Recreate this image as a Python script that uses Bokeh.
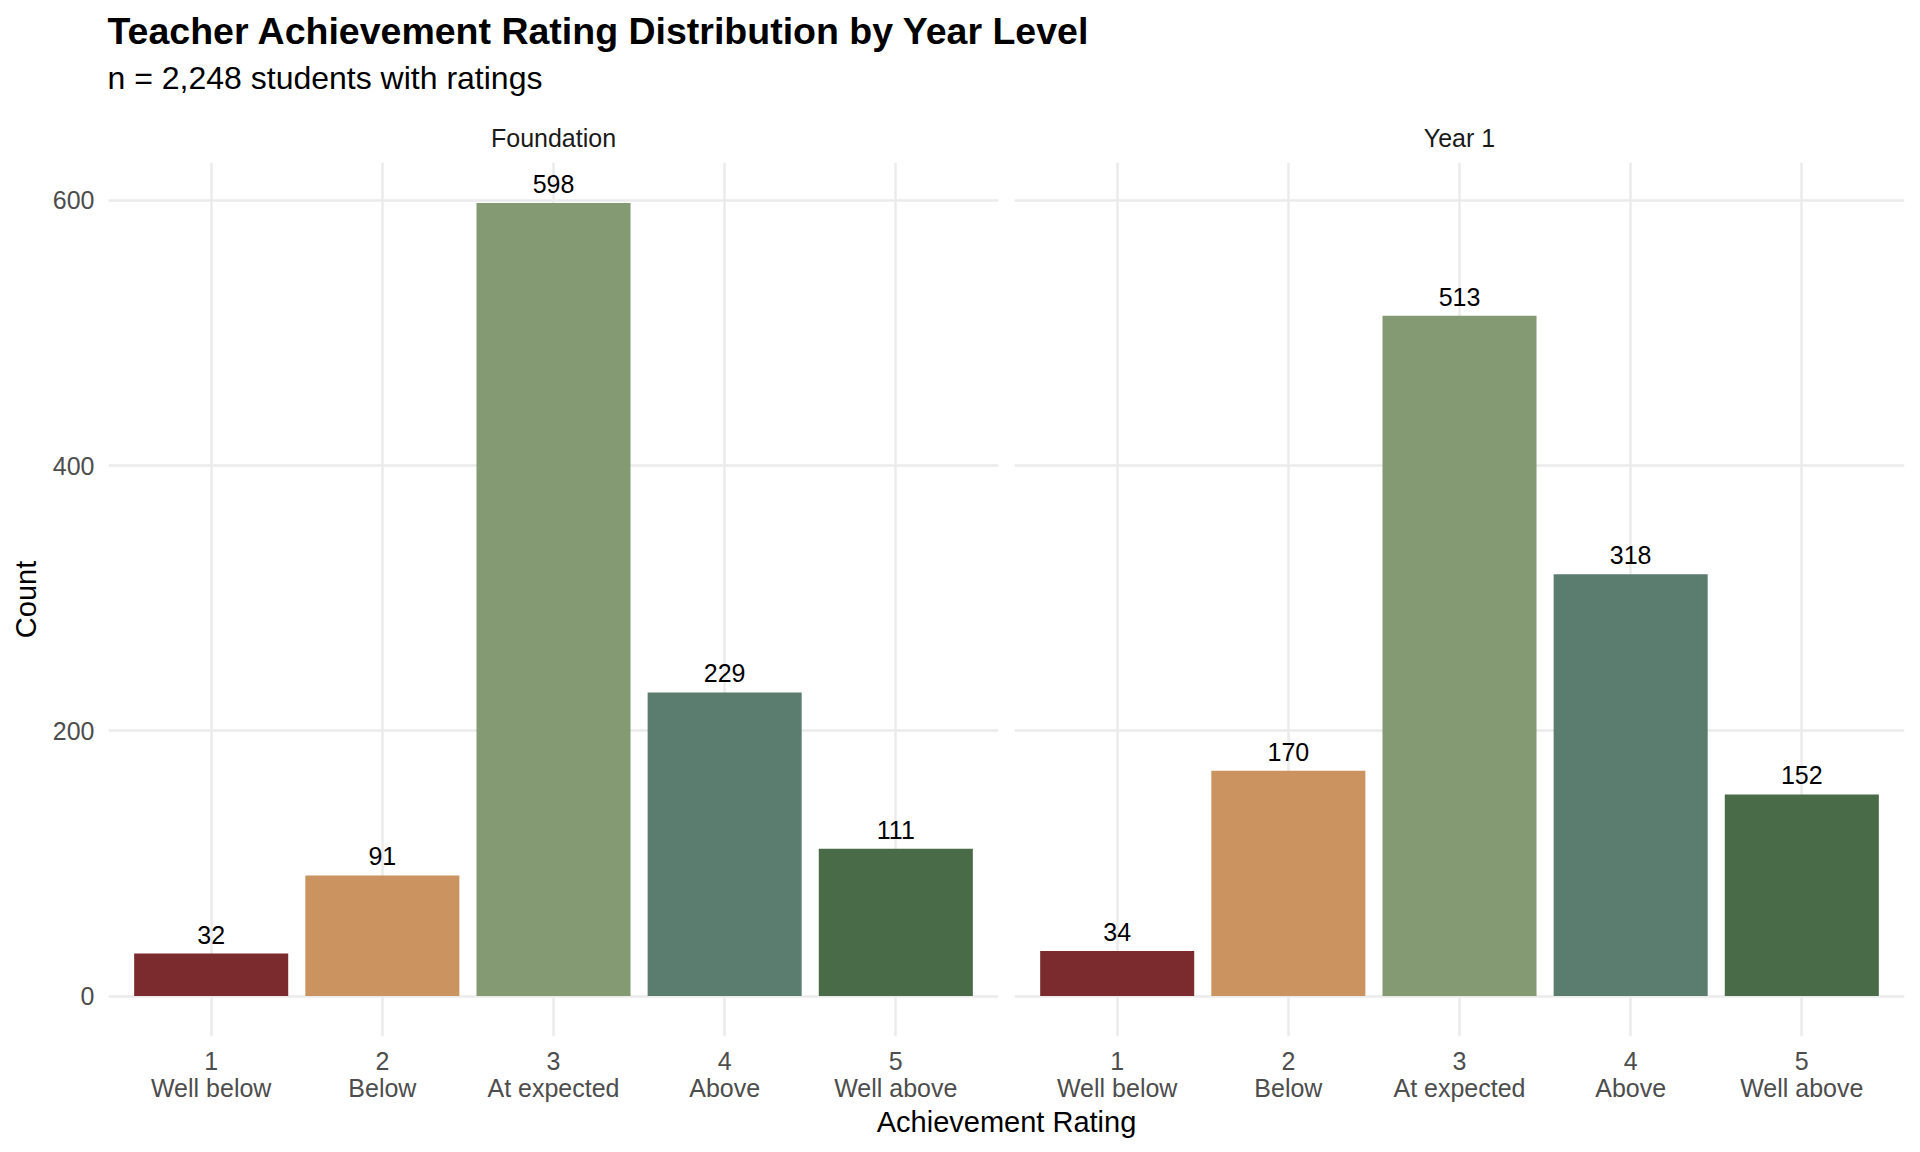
from bokeh.plotting import figure
from bokeh.layouts import column, row
from bokeh.models import Range1d, FixedTicker, ColumnDataSource
from bokeh.embed import file_html
from bokeh.resources import INLINE
from bokeh.core.properties import value

# ---------------- data ----------------
panels = ["Foundation", "Year 1"]
ratings = [1, 2, 3, 4, 5]
rating_names = ["Well below", "Below", "At expected", "Above", "Well above"]
foundation_counts = [32, 91, 598, 229, 111]
year1_counts = [34, 170, 513, 318, 152]
bar_colors = ["#7B2A2E", "#CA935F", "#849A72", "#5A7D6F", "#4A6B48"]
y_ticks = [0, 200, 400, 600]
title_text = "Teacher Achievement Rating Distribution by Year Level"
subtitle_text = "n = 2,248 students with ratings"
x_title = "Achievement Rating"
y_title = "Count"

# ---------------- style ----------------
FONT = "Liberation Sans"
LEFT = 108
GAP = 16
FRAME_W = 890
FRAME_H = 874
TOTAL_W = LEFT + FRAME_W + GAP + FRAME_W + 8
TITLE_H = 154
GRID = "#EBEBEB"
TICK_COL = "#4D4D4D"


def make_panel(counts, show_y):
    p = figure(x_range=Range1d(0.4, 5.6), y_range=Range1d(-30.5, 628.6),
               frame_width=FRAME_W, frame_height=FRAME_H,
               min_border_left=LEFT if show_y else GAP // 2, min_border_right=GAP // 2,
               min_border_top=8, min_border_bottom=66,
               output_backend="svg", toolbar_location=None, tools="")
    p.outline_line_color = None
    p.background_fill_color = "white"
    p.border_fill_color = "white"
    src = ColumnDataSource(dict(x=ratings, top=counts, color=bar_colors,
                                label=[str(c) for c in counts]))
    p.vbar(x="x", top="top", bottom=0, width=0.9, fill_color="color",
           line_color=None, source=src)
    p.text(x="x", y="top", text="label", source=src, text_align="center",
           text_baseline="alphabetic", y_offset=-19, text_font=value(FONT),
           text_font_size="25px", text_color="black")

    p.xgrid.ticker = FixedTicker(ticks=ratings)
    p.ygrid.ticker = FixedTicker(ticks=y_ticks)
    p.grid.grid_line_color = GRID
    p.grid.grid_line_width = 2.5

    xa = p.xaxis[0]
    xa.ticker = FixedTicker(ticks=ratings)
    xa.major_label_overrides = {r: f"{r}\n{n}" for r, n in zip(ratings, rating_names)}
    xa.major_label_text_font = FONT
    xa.major_label_text_font_size = "25px"
    xa.major_label_text_color = TICK_COL
    xa.major_label_text_line_height = 0.98
    xa.major_label_standoff = 10
    xa.major_tick_out = 0
    xa.major_tick_in = 0
    xa.minor_tick_out = 0
    xa.minor_tick_in = 0
    xa.axis_line_color = None

    ya = p.yaxis[0]
    if show_y:
        ya.ticker = FixedTicker(ticks=y_ticks)
        ya.major_label_text_font = FONT
        ya.major_label_text_font_size = "25px"
        ya.major_label_text_color = TICK_COL
        ya.major_label_standoff = 14
        ya.major_tick_out = 0
        ya.major_tick_in = 0
        ya.minor_tick_out = 0
        ya.minor_tick_in = 0
        ya.axis_line_color = None
        ya.axis_label = y_title
        ya.axis_label_text_font = FONT
        ya.axis_label_text_font_size = "29px"
        ya.axis_label_text_font_style = "normal"
        ya.axis_label_text_color = "black"
        ya.axis_label_standoff = 8
    else:
        ya.visible = False
    return p


def text_fig(h):
    p = figure(width=TOTAL_W, height=h, x_range=Range1d(0, TOTAL_W),
               y_range=Range1d(h, 0), x_axis_type=None, y_axis_type=None,
               min_border=0, output_backend="svg", toolbar_location=None, tools="")
    p.outline_line_color = None
    p.background_fill_color = "white"
    p.border_fill_color = "white"
    return p


# title area
ft = text_fig(TITLE_H)
ft.text(x=[107], y=[30.5], text=[title_text], text_font=value(FONT),
        text_font_size="37.5px", text_font_style="bold", text_color="black",
        text_align="left", text_baseline="middle")
ft.text(x=[107], y=[77], text=[subtitle_text], text_font=value(FONT),
        text_font_size="32px", text_color="black",
        text_align="left", text_baseline="middle")
ft.text(x=[LEFT + FRAME_W / 2, LEFT + FRAME_W + GAP + FRAME_W / 2], y=[137, 137],
        text=panels, text_font=value(FONT), text_font_size="25px",
        text_color="#1A1A1A", text_align="center", text_baseline="middle")

f1 = make_panel(foundation_counts, True)
f2 = make_panel(year1_counts, False)

fx = text_fig(42)
fx.text(x=[LEFT + FRAME_W + GAP / 2], y=[17], text=[x_title], text_font=value(FONT),
        text_font_size="29px", text_color="black",
        text_align="center", text_baseline="middle")

layout = column(ft, row(f1, f2), fx)
open("out.html", "w").write(file_html(layout, INLINE))
